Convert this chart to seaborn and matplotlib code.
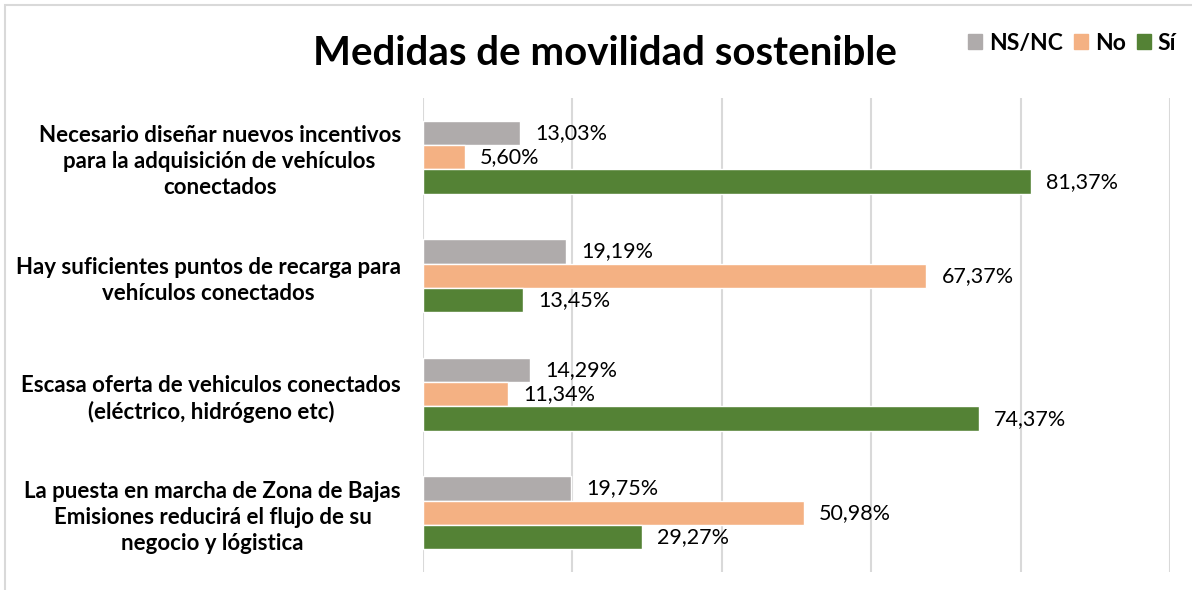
import pandas as pd
import matplotlib.pyplot as plt
import seaborn as sns
from matplotlib.patches import Rectangle

sns.set_theme(style="white")
plt.rcParams['font.family'] = ['Lato', 'DejaVu Sans']
plt.rcParams['text.color'] = 'black'
plt.rcParams['ytick.color'] = 'black'

# --- data ---
categorias = [
    "Necesario diseñar nuevos incentivos\npara la adquisición de vehículos\nconectados",
    "Hay suficientes puntos de recarga para\nvehículos conectados",
    "Escasa oferta de vehiculos conectados\n(eléctrico, hidrógeno etc)",
    "La puesta en marcha de Zona de Bajas\nEmisiones reducirá el flujo de su\nnegocio y lógistica",
]
series = ["NS/NC", "No", "Sí"]
ns_nc = [13.03, 19.19, 14.29, 19.75]
no = [5.60, 67.37, 11.34, 50.98]
si = [81.37, 13.45, 74.37, 29.27]
colores = ["#AFABAB", "#F4B183", "#548235"]

df = pd.DataFrame({
    "categoria": categorias * 3,
    "serie": [s for s in series for _ in categorias],
    "valor": ns_nc + no + si,
})

fig = plt.figure(figsize=(11.92, 5.90), dpi=100)
ax = fig.add_axes([423 / 1192, 1 - 572 / 590, (1170 - 423) / 1192, (572 - 98) / 590])

sns.barplot(data=df, y="categoria", x="valor", hue="serie", hue_order=series,
            palette=colores, orient="h", width=0.62, saturation=1, ax=ax)

# labels on bars
for cont in ax.containers:
    labels = [f"{b.get_width():.2f}".replace(".", ",") + "%" for b in cont]
    ax.bar_label(cont, labels=labels, padding=11, fontsize=15.5, color="black")

ax.set_xlim(0, 100)
ax.set_xticks([0, 20, 40, 60, 80, 100])
ax.set_xticklabels([])
ax.grid(axis="x", color="#D9D9D9", linewidth=1.5)
ax.set_axisbelow(True)
for s in ax.spines.values():
    s.set_visible(False)
ax.set_xlabel("")
ax.set_ylabel("")
ax.tick_params(axis="y", length=0, pad=16)
for t in ax.get_yticklabels():
    t.set_fontweight("bold")
    t.set_fontsize(16)
    t.set_multialignment("center")
    t.set_linespacing(1.3)
    t.set_color("black")

ax.get_legend().remove()
handles = [Rectangle((0, 0), 1, 1, color=c) for c in colores]
fig.legend(handles, series, loc="center right", bbox_to_anchor=(1.004, 0.927),
           ncol=3, frameon=False, handlelength=0.6, handleheight=0.6,
           handletextpad=0.3, columnspacing=0.5,
           prop={"weight": "bold", "size": 16.5})

fig.text(0.5076, 0.91, "Medidas de movilidad sostenible", ha="center", va="center",
         fontsize=29, fontweight="bold", color="black")

# outer frame like the original
fig.patches.append(Rectangle((0.004, -0.02), 1.1, 1.011, transform=fig.transFigure,
                             fill=False, edgecolor="#D9D9D9", linewidth=1.5))

fig.savefig("out.png", dpi=100)
